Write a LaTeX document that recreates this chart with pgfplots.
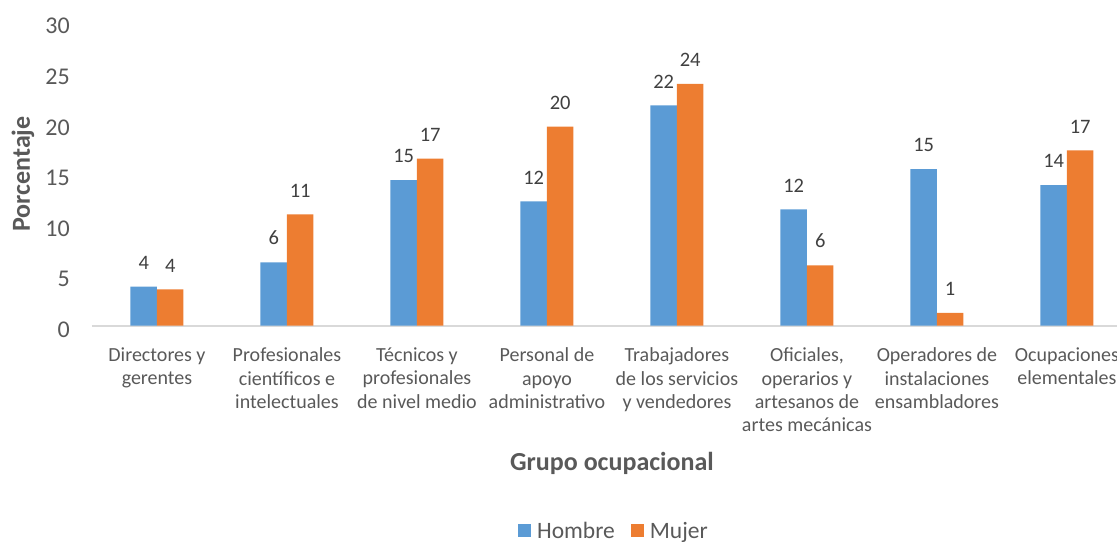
\documentclass[border=0pt]{standalone}
\usepackage{fontspec}
\setmainfont{Carlito}
\usepackage{pgfplots}
\usepackage{pgfplotstable}
\pgfplotsset{compat=1.18}

\definecolor{cHombre}{HTML}{5B9BD5}
\definecolor{cMujer}{HTML}{ED7D31}
\definecolor{txt}{HTML}{595959}
\definecolor{lbl}{HTML}{404040}
\definecolor{axisgray}{HTML}{D9D9D9}

% grupo, hombre, etiqueta, mujer, etiqueta
\pgfplotstableread{
x h hl m ml
0 3.86 4 3.60 4
1 6.27 6 11.01 11
2 14.40 15 16.51 17
3 12.30 12 19.67 20
4 21.79 22 23.90 24
5 11.51 12 5.97 6
6 15.49 15 1.26 1
7 13.91 14 17.34 17
}\datatable

\begin{document}
\begin{tikzpicture}
\useasboundingbox (0,0) rectangle (1117pt,544pt);
\begin{axis}[
    at={(92pt,218.3pt)}, anchor=south west,
    scale only axis,
    width=1040pt, height=303.45pt,
    ybar=0pt,
    bar width=26.5pt,
    xmin=-0.5, xmax=7.5,
    ymin=0, ymax=30,
    ytick={0,5,...,30},
    xtick={0,...,7},
    xticklabels={
        {Directores y\\gerentes},
        {Profesionales\\científicos e\\intelectuales},
        {Técnicos y\\profesionales\\de nivel medio},
        {Personal de\\apoyo\\administrativo},
        {Trabajadores\\de los servicios\\y vendedores},
        {Oficiales,\\operarios y\\artesanos de\\artes mecánicas},
        {Operadores de\\instalaciones\\ensambladores},
        {Ocupaciones\\elementales}},
    axis x line*=bottom,
    axis y line*=left,
    x axis line style={draw=axisgray, line width=2pt, -},
    y axis line style={draw=none},
    major tick length=0pt,
    /pgf/number format/assume math mode=true,
    xticklabel style={align=center, anchor=north, inner sep=0pt, yshift=-22pt,
        text=txt, font=\fontsize{20}{23.3}\selectfont},
    yticklabel style={anchor=east, inner sep=0pt, xshift=-22pt, yshift=-4pt,
        text=txt, font=\fontsize{24}{28}\selectfont},
    xlabel={Grupo ocupacional},
    ylabel={Porcentaje},
    every axis x label/.style={at={(axis description cs:0.5,0)}, anchor=center,
        yshift=-137.3pt, text=txt, font=\fontsize{26}{30}\selectfont\bfseries},
    every axis y label/.style={at={(axis description cs:0,0.5)}, anchor=center,
        xshift=-69pt, rotate=90, text=txt, font=\fontsize{26}{30}\selectfont\bfseries},
    point meta=explicit symbolic,
    nodes near coords,
    every node near coord/.append style={inner sep=0pt, anchor=south, yshift=17pt,
        text=lbl, font=\fontsize{20.5}{24}\selectfont},
    legend columns=2,
    legend style={at={(axis description cs:0.5,0)}, anchor=center,
        xshift=2pt, yshift=-205pt, draw=none, fill=none,
        font=\fontsize{23.5}{28}\selectfont, text=txt,
        /tikz/every odd column/.append style={column sep=4pt},
        /tikz/every even column/.append style={column sep=14pt}},
    legend image code/.code={\fill[#1] (0pt,-6pt) rectangle (13pt,7pt);},
]
\addplot[fill=cHombre, draw=none] table[x=x, y=h, meta=hl] {\datatable};
\addplot[fill=cMujer, draw=none] table[x=x, y=m, meta=ml] {\datatable};
\legend{Hombre, Mujer}
\end{axis}
\end{tikzpicture}
\end{document}
